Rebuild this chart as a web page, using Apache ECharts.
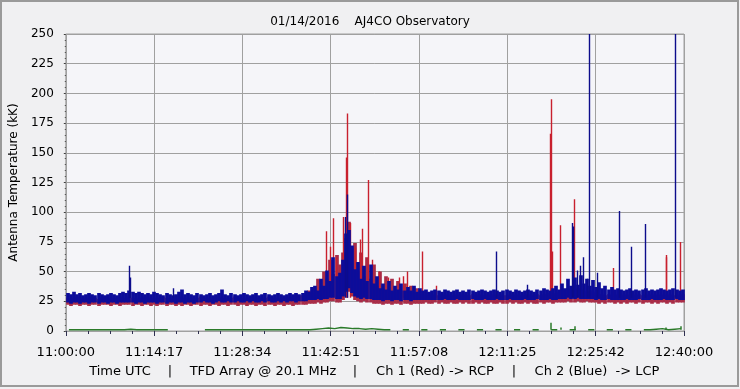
<!DOCTYPE html>
<html><head><meta charset="utf-8">
<script src="https://cdn.jsdelivr.net/npm/echarts@6/dist/echarts.min.js"></script>
<style>html,body{margin:0;padding:0;background:#f0f0f2}#c{width:740px;height:389px}</style>
</head><body><div id="c"></div>
<script>
// ---------- data ----------
const BIN = 30;          // seconds per band bin (200 bins = 100 minutes)
const GBIN = 60;         // seconds per green bin
const SPAN = 6000;       // 11:00:00 .. 12:40:00 in seconds
const tickLabels = ['11:00:00','11:14:17','11:28:34','11:42:51','11:57:08','12:11:25','12:25:42','12:40:00'];
const footerParts = ['Time UTC','|','TFD Array @ 20.1 MHz','|','Ch 1 (Red) -> RCP','|','Ch 2 (Blue)  -> LCP'];

// Ch 2 (Blue) noise band: upper / lower envelope per bin (kK)
const blueHi = [
32,31,33,31,32,30,31,32,31,30, 32,31,30,31,32,31,30,32,33,32,
34,33,32,33,32,31,32,31,33,32, 31,30,32,31,30,31,33,35,31,32,
31,30,32,31,30,31,32,30,31,32, 35,31,30,32,31,30,31,32,31,30,
31,32,30,31,32,31,30,31,32,31, 30,31,32,31,32,31,32,34,33,37,
38,34,44,38,51,42,62,46,49,60, 82,85,72,52,58,44,55,42,56,40,
46,36,40,35,42,34,38,35,40,34, 37,34,38,33,36,34,35,33,34,35,
34,33,35,34,33,34,35,33,34,33, 35,34,33,34,35,34,33,34,35,34,
33,34,35,34,33,35,34,33,34,35, 34,33,35,34,36,35,34,36,38,35,
40,36,44,38,45,39,47,40,44,38, 43,37,41,36,38,35,37,35,36,35,
34,35,36,34,35,34,35,36,34,35, 34,35,36,35,34,35,36,35,34,35];
const blueLo = [
24,23,24,24,23,24,24,23,24,24, 23,24,24,23,24,24,23,24,24,24,
24,24,23,24,24,23,24,24,24,23, 24,24,23,24,24,23,24,24,23,24,
24,23,24,24,25,24,24,23,24,25, 24,24,25,24,24,25,24,24,25,24,
25,24,24,25,24,25,24,24,25,24, 25,24,25,25,24,25,25,25,26,26,
26,27,26,27,27,28,28,27,27,29, 33,36,32,29,28,27,28,27,27,26,
26,26,25,26,26,25,26,26,25,26, 26,25,26,26,26,26,26,26,26,26,
26,26,27,26,26,26,27,26,26,26, 26,27,26,26,26,27,26,26,26,27,
26,26,26,27,26,26,26,26,27,26, 26,26,27,26,26,26,27,26,26,27,
27,27,28,27,27,28,27,27,27,27, 27,26,27,26,26,27,26,26,26,26,
26,27,26,26,26,27,26,26,26,27, 26,26,26,27,26,26,26,27,26,26];

// Ch 1 (Red) noise band
const redHi = [
28,27,28,29,28,27,28,28,29,28, 27,28,29,28,27,28,28,29,28,28,
29,28,28,27,28,29,28,28,27,28, 28,29,28,27,28,28,29,28,27,28,
28,27,28,29,28,28,27,28,29,28, 28,28,27,28,29,28,28,27,28,28,
29,28,28,27,28,29,28,28,27,28, 28,29,28,29,30,30,30,31,34,32,
36,44,38,50,44,60,48,64,56,66, 78,92,70,74,50,66,46,62,44,56,
38,50,36,46,34,44,33,42,34,40, 33,38,32,36,31,33,30,32,30,31,
30,31,30,31,30,30,31,30,31,30, 30,31,30,31,30,30,31,30,31,30,
31,30,30,31,30,31,30,30,31,30, 31,30,31,30,31,31,32,31,32,33,
34,35,36,35,34,36,35,34,33,34, 33,32,31,31,30,31,30,31,30,31,
30,31,30,31,30,31,30,31,30,31, 30,31,30,31,30,31,30,31,30,31];
const redLo = [
22,21,22,22,21,22,22,21,22,22, 21,22,22,22,21,22,22,21,22,22,
22,21,22,22,21,22,22,21,22,21, 22,22,21,22,22,21,22,21,22,22,
21,22,22,21,22,22,21,22,22,21, 22,22,21,22,22,21,22,22,21,22,
22,21,22,22,21,22,22,21,22,22, 21,22,22,21,22,22,22,22,23,23,
23,24,23,24,24,25,25,24,24,26, 30,33,29,26,25,24,25,24,24,23,
23,23,22,23,23,22,23,23,22,23, 23,22,23,23,23,23,24,23,23,24,
23,24,23,23,24,23,23,24,23,24, 23,23,24,23,24,23,23,24,23,23,
24,23,23,24,23,24,23,23,24,23, 24,23,23,24,23,24,24,23,24,24,
24,24,25,24,24,25,24,24,25,24, 24,24,23,24,23,24,24,23,24,23,
24,23,24,24,23,24,23,24,24,23, 24,23,24,24,23,24,23,24,24,24];

// isolated spikes: [seconds after 11:00:00, peak kK]
const redSpikes = [
[2523,84],[2569,71],[2591,95],[2627,62],[2692,96],[2720,146],[2727,183],[2756,91],
[2811,70],[2862,77],[2882,86],[2940,127],[2976,60],[3047,50],[3134,45],[3241,45],
[3279,46],[3318,50],[3463,67],[3599,38],[4700,166],[4714,195],[4724,67],[4801,89],
[4937,111],[5315,53],[5823,64],[5832,62],[5964,75]];
const blueSpikes = [
[614,55],[627,45],[1045,36],[2711,96],[2727,115],[4181,67],[4481,39],[4914,91],
[4929,88],[4963,51],[4992,55],[5024,62],[5060,44],[5082,250],[5154,49],[5373,101],
[5489,71],[5625,90],[5916,250]];

// third trace (green), per 60 s bin; null = no data
const green = [
1,1,1,1,1,1,1,1,1,1, 1.5,1,1,1,1,1,1,null,null,null,
null,null,1,1,1,1,1,1,1,1, 1,1,1,1,1,1,1,1,1,1,
1.5,2,2.5,2,3,2.5,2,2,1.5,2, 1.5,1,1,null,1,1,null,1,1,null,
1,1,null,1,1,null,1,1,null,1, 1,null,1,1,null,1,1,null,1,1,
null,1,1,null,1,1,null,1,1,null, 1,1,null,1,1,1.5,2,1,1.5,2];
const greenSpikes = [[4707,7],[4801,3],[4937,4],[5823,3],[5964,4]];

// ---------- chart ----------
const FONT = 'DejaVu Sans';
function band(hi, lo){ return hi.map((h,i)=>({coords:[[i*BIN+BIN/2, lo[i]],[i*BIN+BIN/2, h]]})); }
function spikes(list, base){ return list.map(([t,v])=>({coords:[[t,base],[t,v]]})); }
const STEP = SPAN/7;
const footerX = [120,170,263,355,435,514,597];

const chart = echarts.init(document.getElementById('c'));
chart.setOption({
  animation:false,
  backgroundColor:'#f0f0f2',
  title:{text:'01/14/2016    AJ4CO Observatory', left:'center', top:11,
    textStyle:{fontFamily:FONT, fontSize:12, fontWeight:'normal', color:'#000'}},
  grid:{left:65, right:56, top:34, bottom:58, show:true, backgroundColor:'#f5f5f9', borderColor:'#a0a0a0', borderWidth:1},
  xAxis:{type:'value', min:0, max:SPAN, interval:STEP, offset:5,
    axisLine:{show:false},
    axisTick:{show:true, length:5, lineStyle:{color:'#303050'}},
    minorTick:{show:true, splitNumber:4, length:3, lineStyle:{color:'#303050'}},
    splitLine:{show:true, lineStyle:{color:'#a0a0a0', width:1}},
    axisLabel:{margin:10, fontFamily:FONT, fontSize:13, color:'#000',
      formatter:v=>tickLabels[Math.round(v/STEP)]}},
  yAxis:{type:'value', min:0, max:250, interval:25, offset:6,
    name:'Antenna Temperature (kK)', nameLocation:'middle', nameGap:31,
    nameTextStyle:{fontFamily:FONT, fontSize:12, color:'#000'},
    axisLine:{show:false},
    axisTick:{show:true, length:2, lineStyle:{color:'#404040'}},
    minorTick:{show:true, splitNumber:5, length:1, lineStyle:{color:'#404040'}},
    splitLine:{show:true, lineStyle:{color:'#a0a0a0', width:1}},
    axisLabel:{margin:6, fontFamily:FONT, fontSize:12, color:'#000'}},
  graphic:[
    {type:'rect', shape:{x:1, y:1, width:737, height:385}, style:{fill:'none', stroke:'#9a9a9a', lineWidth:2}, silent:true}
  ].concat(footerParts.map((s,i)=>({type:'text', x:footerX[i], y:372,
      style:{text:s, fontFamily:FONT, fontSize:13, fill:'#000', align:'center', verticalAlign:'middle'}}))),
  series:[
    {type:'line', data:green.map((v,i)=>[i*GBIN+GBIN/2, v==null?'-':v]), showSymbol:false, connectNulls:false,
      lineStyle:{color:'#2a7a2a', width:1.5}, z:2},
    {type:'lines', coordinateSystem:'cartesian2d', data:spikes(greenSpikes, 1), lineStyle:{color:'#2a7a2a', width:1.5, opacity:1}, z:2},
    {type:'lines', coordinateSystem:'cartesian2d', data:band(redHi, redLo), lineStyle:{color:'#a82c48', width:3.7, opacity:1, cap:'butt'}, z:3},
    {type:'lines', coordinateSystem:'cartesian2d', data:spikes(redSpikes, 28), lineStyle:{color:'#c8202e', width:1.4, opacity:1}, z:3},
    {type:'lines', coordinateSystem:'cartesian2d', data:band(blueHi, blueLo), lineStyle:{color:'#0c0c9a', width:3.7, opacity:1, cap:'butt'}, z:4},
    {type:'lines', coordinateSystem:'cartesian2d', data:spikes(blueSpikes, 28), lineStyle:{color:'#0c0c8c', width:1.4, opacity:1}, z:4}
  ]
});
</script></body></html>
